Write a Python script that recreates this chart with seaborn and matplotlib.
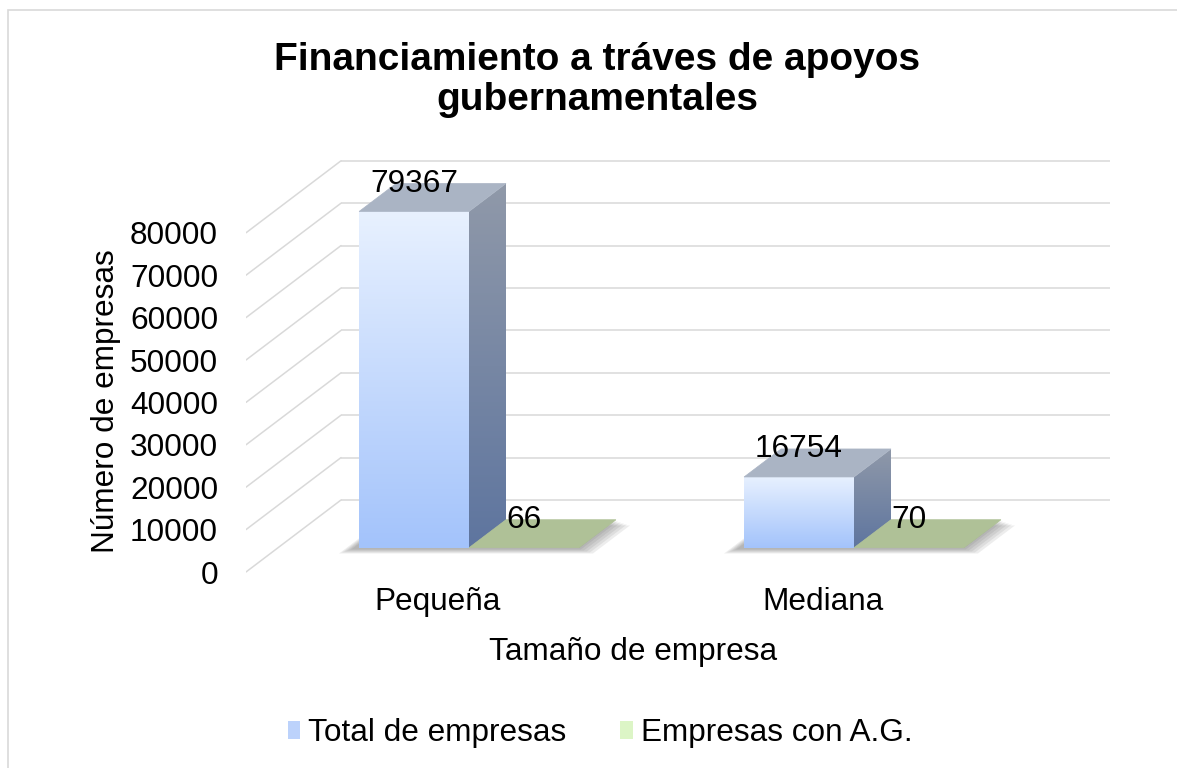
import numpy as np
import pandas as pd
import matplotlib
matplotlib.use("Agg")
import matplotlib.pyplot as plt
import seaborn as sns
from matplotlib.patches import Polygon, Rectangle, Patch
from matplotlib.transforms import ScaledTranslation
from matplotlib.colors import LinearSegmentedColormap

# ---------------- data ----------------
categories = ["Pequeña", "Mediana"]
total_empresas = [79367, 16754]
empresas_ag = [66, 70]
series_names = ["Total de empresas", "Empresas con A.G."]
y_ticks = [0, 10000, 20000, 30000, 40000, 50000, 60000, 70000, 80000]
title_text = "Financiamiento a tráves de apoyos\ngubernamentales"
x_label = "Tamaño de empresa"
y_label = "Número de empresas"

df = pd.DataFrame({
    "Tamaño": categories * 2,
    "Serie": [series_names[0]] * len(categories) + [series_names[1]] * len(categories),
    "Valor": total_empresas + empresas_ag,
})

# ---------------- style ----------------
W, H, DPI = 1177, 768, 100
sns.set_theme(style="white")
plt.rcParams['font.family'] = ['Liberation Sans', 'DejaVu Sans']
plt.rcParams['text.color'] = 'black'
plt.rcParams['axes.labelcolor'] = 'black'
plt.rcParams['xtick.color'] = 'black'
plt.rcParams['ytick.color'] = 'black'
FS = 22.7
GRID = "#d9d9d9"

# face colours per series: (front top, front bottom, side top, side bottom, top face)
faces = [
    ("#e8f1ff", "#a3c3fb", "#9099a9", "#5e759f", "#aab4c4"),
    ("#e4f8d2", "#c6e9a6", "#9aab84", "#7f936a", "#afc197"),
]

fig = plt.figure(figsize=(W / DPI, H / DPI), dpi=DPI)
fig.patch.set_facecolor("white")

# pixel geometry of the pseudo-3D plot area
AX_L, AX_R, AX_T, AX_B = 246, 1110, 160, 573
X0, SX = 469, 385            # px of first group centre on bar plane, px per category
Y0, SY = 548, 42.4 / 10000   # px of zero on bar plane, px per unit value
ax = fig.add_axes([AX_L / W, 1 - AX_B / H, (AX_R - AX_L) / W, (AX_B - AX_T) / H])

def dxd(px):
    return px / SX

def dyd(px):
    return px / SY

sns.barplot(data=df, x="Tamaño", y="Valor", hue="Serie", order=categories,
            hue_order=series_names, palette=[faces[0][1], faces[1][1]],
            width=0.571, saturation=1, linewidth=0, errorbar=None,
            legend=False, ax=ax, zorder=4)

xlo, xhi = (AX_L - X0) / SX, (AX_R - X0) / SX
ylo, yhi = (Y0 - AX_B) / SY, (Y0 - AX_T) / SY

# ---------- walls: back gridlines and left-wall diagonals ----------
FRONT_DX, FRONT_DY = 31, 24      # floor front edge relative to bar plane (px)
BACK_DX, BACK_DY = 64, 48        # back wall relative to bar plane (px)
x_front = xlo
x_back = xlo + dxd(FRONT_DX + BACK_DX)
for v in y_ticks:
    yb = v + dyd(BACK_DY)
    yf = v - dyd(FRONT_DY)
    ax.plot([x_back, xhi], [yb, yb], color=GRID, lw=1.1, zorder=0, solid_capstyle="butt")
    ax.plot([x_front, x_back], [yf, yb], color=GRID, lw=1.1, zorder=0)

# ---------- 3D bar faces ----------
BDX, BDY = dxd(37), dyd(28)
grad = np.linspace(0, 1, 256).reshape(-1, 1)

def gradient_fill(poly, extent, c_bottom, c_top, z):
    cmap = LinearSegmentedColormap.from_list("g", [c_bottom, c_top])
    im = ax.imshow(grad, extent=extent, origin="lower", aspect="auto",
                   cmap=cmap, zorder=z, interpolation="bilinear")
    im.set_clip_path(poly)

containers = ax.containers
for ci, cont in enumerate(containers):
    ftop, fbot, stop, sbot, tcol = faces[ci]
    for p in cont.patches:
        x0 = p.get_x(); w = p.get_width(); h = p.get_height(); x1 = x0 + w
        front = Polygon([(x0, 0), (x1, 0), (x1, h), (x0, h)], closed=True,
                        facecolor="none", edgecolor="none", zorder=4)
        ax.add_patch(front)
        gradient_fill(front, [x0, x1, 0, max(h, 1)], fbot, ftop, 4.1)
        side = Polygon([(x1, 0), (x1, h), (x1 + BDX, h + BDY), (x1 + BDX, BDY)],
                       closed=True, facecolor="none", edgecolor="none", zorder=4)
        ax.add_patch(side)
        gradient_fill(side, [x1, x1 + BDX, 0, h + BDY], sbot, stop, 4.1)
        top = Polygon([(x0, h), (x1, h), (x1 + BDX, h + BDY), (x0 + BDX, h + BDY)],
                      closed=True, facecolor=tcol, edgecolor=tcol, lw=0.5, zorder=4.2)
        ax.add_patch(top)

# ---------- soft floor shadow under each group ----------
for i in range(len(categories)):
    pa = containers[0].patches[i]
    pb = containers[1].patches[i]
    gx0 = pa.get_x()
    gx1 = pb.get_x() + pb.get_width()
    for k in range(5):
        e = dxd(2 + 3 * k)
        s = dyd(1.5 + 1.0 * k)
        shadow = Polygon([(gx0 - e - dxd(6), -s), (gx1 + e, -s),
                          (gx1 + BDX + e, BDY - s), (gx0 + BDX - e - dxd(6), BDY - s)],
                         closed=True, facecolor="#404040", edgecolor="none",
                         alpha=0.09, zorder=1)
        ax.add_patch(shadow)

# ---------- value labels ----------
for cont in containers:
    ax.bar_label(cont, labels=[f"{int(round(v))}" for v in cont.datavalues],
                 padding=9, fontsize=FS, color="black", zorder=6)

ax.set_xlim(xlo, xhi)
ax.set_ylim(ylo, yhi)
for s in ax.spines.values():
    s.set_visible(False)
ax.set_facecolor("none")
ax.grid(False)

# ---------- ticks (shifted onto the front plane of the floor) ----------
ax.set_yticks(y_ticks)
ax.set_yticklabels([str(v) for v in y_ticks])
ax.tick_params(axis="y", length=0, pad=28 * 72 / DPI, labelsize=FS, labelcolor="black")
ax.tick_params(axis="x", length=0, pad=14 * 72 / DPI, labelsize=FS, labelcolor="black")
for lab in ax.get_yticklabels():
    lab.set_transform(lab.get_transform() + ScaledTranslation(0, -FRONT_DY / DPI, fig.dpi_scale_trans))
for lab in ax.get_xticklabels():
    lab.set_transform(lab.get_transform() + ScaledTranslation(-FRONT_DX / DPI, 0, fig.dpi_scale_trans))

ax.set_xlabel(x_label, fontsize=FS, color="black")
ax.set_ylabel(y_label, fontsize=FS, color="black")
ax.xaxis.set_label_coords((633 - AX_L) / (AX_R - AX_L), (AX_B - 652) / (AX_B - AX_T))
ax.yaxis.set_label_coords((106 - AX_L) / (AX_R - AX_L), (AX_B - 401) / (AX_B - AX_T))
ax.xaxis.label.set(va="center", ha="center")
ax.yaxis.label.set(va="center", ha="center", rotation_mode="default")

fig.suptitle(title_text, x=597 / W, y=1 - 80 / H, va="center", ha="center",
             fontsize=28, fontweight="bold", linespacing=1.16, color="black")

handles = [Patch(facecolor="#bcd2fb", edgecolor="none"),
           Patch(facecolor="#dcf5c6", edgecolor="none")]
fig.legend(handles, series_names, loc="center", bbox_to_anchor=(600 / W, 1 - 733 / H),
           ncol=2, frameon=False, fontsize=FS, handlelength=0.4, handleheight=0.5,
           handletextpad=0.25, columnspacing=1.7, labelcolor="black")

fig.add_artist(Rectangle((8 / W, -0.1), 1.2, 1 - 10 / H + 0.1, transform=fig.transFigure,
                         fill=False, edgecolor=GRID, lw=1.2))

fig.savefig("out.png", dpi=DPI, facecolor="white")
